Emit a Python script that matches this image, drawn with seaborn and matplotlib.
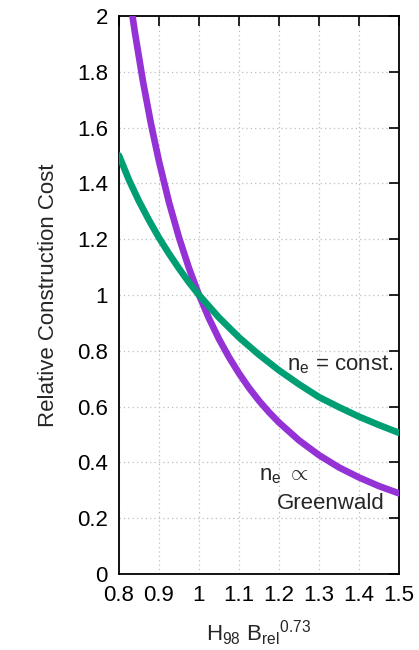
import matplotlib
matplotlib.use("Agg")
import pandas as pd
import seaborn as sns
import matplotlib.pyplot as plt

# Valores (n_e = const.)
x_const = [0.800, 0.825, 0.850, 0.875, 0.900, 0.925, 0.950, 0.975, 1.000,
           1.050, 1.100, 1.150, 1.200, 1.250, 1.300, 1.350, 1.400, 1.450, 1.500]
y_const = [1.500, 1.412, 1.336, 1.268, 1.205, 1.148, 1.095, 1.045, 1.000,
           0.919, 0.848, 0.786, 0.730, 0.680, 0.634, 0.598, 0.564, 0.534, 0.506]

# Valores (n_e ~ Greenwald)
x_green = [0.825, 0.830, 0.840, 0.860, 0.880, 0.900, 0.925, 0.950, 0.975, 1.000,
           1.025, 1.050, 1.075, 1.100, 1.125, 1.150, 1.175, 1.200, 1.250,
           1.300, 1.350, 1.400, 1.450, 1.500]
y_green = [2.080, 2.035, 1.939, 1.765, 1.613, 1.479, 1.332, 1.206, 1.096, 1.000,
           0.916, 0.842, 0.777, 0.719, 0.667, 0.621, 0.580, 0.543, 0.479,
           0.426, 0.382, 0.346, 0.315, 0.289]

x_ticks = [0.8, 0.9, 1.0, 1.1, 1.2, 1.3, 1.4, 1.5]
x_tick_labels = ["0.8", "0.9", "1", "1.1", "1.2", "1.3", "1.4", "1.5"]
y_ticks = [0, 0.2, 0.4, 0.6, 0.8, 1.0, 1.2, 1.4, 1.6, 1.8, 2.0]
y_tick_labels = ["0", "0.2", "0.4", "0.6", "0.8", "1", "1.2", "1.4", "1.6", "1.8", "2"]

COR_CONST = "#009E73"
COR_GREEN = "#9432D6"
FS = 16

df_const = pd.DataFrame({"x": x_const, "y": y_const})
df_green = pd.DataFrame({"x": x_green, "y": y_green})

sns.set_style("white")
plt.rcParams["font.family"] = ["Liberation Sans", "DejaVu Sans"]
plt.rcParams["mathtext.fontset"] = "custom"
plt.rcParams["mathtext.rm"] = "Liberation Sans"
plt.rcParams["mathtext.it"] = "Liberation Sans:italic"

fig = plt.figure(figsize=(4.19, 6.5), dpi=100)
ax = fig.add_axes([119 / 419, 1 - 574 / 650, 280 / 419, 558 / 650])

sns.lineplot(data=df_green, x="x", y="y", color=COR_GREEN, linewidth=4.8,
             ax=ax, zorder=3, sort=False)
sns.lineplot(data=df_const, x="x", y="y", color=COR_CONST, linewidth=4.8,
             ax=ax, zorder=4, sort=False)

ax.set_xlim(0.8, 1.5)
ax.set_ylim(0, 2)
ax.set_xticks(x_ticks)
ax.set_xticklabels(x_tick_labels)
ax.set_yticks(y_ticks)
ax.set_yticklabels(y_tick_labels)

ax.grid(True, linestyle=(0, (1, 2.5)), color="#bdbdbd", linewidth=0.9)
ax.tick_params(direction="in", length=7, width=1.2, top=True, right=True,
               labelsize=FS, pad=8, colors="black")
for s in ax.spines.values():
    s.set_linewidth(1.3)
    s.set_color("black")

ax.set_ylabel("Relative Construction Cost", fontsize=FS, labelpad=13)
ax.set_xlabel(r"H$_{98}$ B$_{\mathrm{rel}}{}^{0.73}$", fontsize=FS, labelpad=9)

ax.text(1.487, 0.731, r"n$_{\mathrm{e}}$ = const.", fontsize=FS,
        ha="right", va="baseline", zorder=5)
ax.text(1.15, 0.337, r"n$_{\mathrm{e}}$ $\propto$", fontsize=FS,
        ha="left", va="baseline", zorder=5)
ax.text(1.465, 0.233, "Greenwald", fontsize=FS,
        ha="right", va="baseline", zorder=5)

fig.savefig("out.png", dpi=100)
plt.close(fig)
print("ok")
